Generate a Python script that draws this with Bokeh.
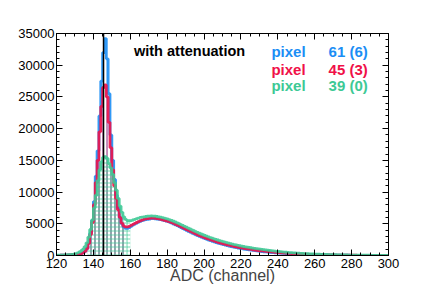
from bokeh.plotting import figure
from bokeh.models import Range1d, FixedTicker, LinearAxis, Label, Span
from bokeh.embed import file_html
from bokeh.resources import INLINE

# ---- data (counts per ADC channel, channels 120..299) ----
channels = list(range(120, 300))

pixel61 = [
    30, 30, 40, 40, 50, 60, 70, 90, 110, 140,
    120, 160, 220, 300, 400, 650, 1100, 2000, 3500, 5500,
    8500, 12500, 16500, 22000, 27500, 32000, 34200, 31000, 25500, 19000,
    15000, 12000, 9500, 7500, 6000, 5000, 4500, 4300, 4300, 4400,
    4600, 4800, 4950, 5100, 5250, 5400, 5500, 5600, 5650, 5700,
    5750, 5800, 5800, 5780, 5750, 5700, 5650, 5580, 5500, 5420,
    5330, 5220, 5100, 4970, 4840, 4700, 4560, 4410, 4260, 4110,
    3960, 3820, 3680, 3540, 3400, 3270, 3140, 3010, 2890, 2770,
    2660, 2550, 2440, 2340, 2240, 2140, 2050, 1960, 1870, 1790,
    1710, 1640, 1560, 1490, 1420, 1360, 1300, 1240, 1180, 1120,
    1070, 1020, 970, 920, 880, 840, 800, 760, 720, 690,
    650, 620, 590, 560, 530, 500, 475, 450, 425, 400,
    380, 360, 340, 320, 300, 285, 270, 255, 240, 225,
    210, 200, 190, 180, 170, 160, 150, 140, 130, 120,
    115, 110, 100, 95, 90, 85, 80, 75, 70, 65,
    60, 58, 55, 52, 48, 45, 42, 40, 38, 35,
    32, 30, 28, 26, 25, 23, 22, 20, 19, 18,
    17, 16, 15, 14, 13, 12, 11, 10, 10, 9,
]

pixel45 = [
    30, 35, 40, 45, 55, 65, 80, 100, 120, 150,
    130, 170, 230, 310, 420, 650, 1050, 1900, 3300, 5200,
    8000, 11500, 15000, 19500, 23500, 26500, 26900, 25000, 21000, 17000,
    13500, 11000, 9000, 7200, 6000, 5100, 4650, 4500, 4500, 4600,
    4750, 4900, 5050, 5200, 5350, 5480, 5600, 5700, 5760, 5800,
    5850, 5880, 5880, 5860, 5820, 5770, 5710, 5640, 5560, 5480,
    5390, 5290, 5180, 5060, 4930, 4800, 4660, 4520, 4380, 4230,
    4090, 3950, 3810, 3670, 3530, 3400, 3270, 3140, 3020, 2900,
    2790, 2680, 2570, 2470, 2370, 2270, 2180, 2090, 2000, 1920,
    1840, 1760, 1690, 1620, 1550, 1480, 1420, 1360, 1300, 1240,
    1190, 1140, 1090, 1040, 990, 950, 910, 870, 830, 790,
    750, 720, 690, 660, 630, 600, 570, 540, 510, 485,
    460, 435, 410, 390, 370, 350, 330, 310, 295, 280,
    265, 250, 235, 220, 210, 200, 190, 180, 170, 160,
    150, 142, 134, 126, 118, 110, 103, 96, 90, 84,
    78, 73, 68, 64, 60, 56, 52, 49, 46, 43,
    40, 38, 36, 34, 32, 30, 28, 26, 24, 22,
    21, 20, 19, 18, 17, 16, 15, 14, 13, 12,
]

pixel39 = [
    40, 45, 55, 65, 80, 95, 115, 140, 170, 210,
    300, 400, 550, 750, 1000, 1400, 2000, 2900, 4100, 5600,
    7500, 9500, 11800, 13500, 14800, 15500, 15600, 15300, 14500, 13800,
    12800, 11500, 10300, 9000, 7800, 6800, 6100, 5700, 5500, 5500,
    5500, 5600, 5700, 5800, 5900, 6000, 6050, 6100, 6150, 6200,
    6200, 6250, 6200, 6200, 6150, 6100, 6050, 5980, 5900, 5820,
    5730, 5630, 5520, 5400, 5280, 5150, 5020, 4880, 4740, 4600,
    4460, 4320, 4180, 4040, 3900, 3770, 3640, 3510, 3390, 3270,
    3150, 3040, 2930, 2830, 2730, 2630, 2530, 2440, 2350, 2260,
    2180, 2100, 2020, 1940, 1870, 1800, 1730, 1660, 1600, 1540,
    1480, 1420, 1370, 1320, 1270, 1220, 1170, 1120, 1080, 1040,
    1000, 960, 920, 880, 840, 800, 765, 730, 695, 660,
    630, 600, 570, 540, 515, 490, 465, 440, 420, 400,
    380, 360, 340, 325, 310, 295, 280, 265, 250, 235,
    220, 208, 196, 185, 175, 165, 155, 146, 138, 130,
    122, 115, 108, 101, 95, 89, 83, 78, 73, 68,
    64, 60, 56, 52, 49, 46, 43, 40, 38, 36,
    34, 32, 30, 28, 26, 24, 22, 20, 19, 18,
]

# hatched (integration) windows, [first, last] channel
window61 = [137, 156]
window45 = [137, 156]
window39 = [137, 159]

marker_channel = 145.5

x_ticks = [120, 140, 160, 180, 200, 220, 240, 260, 280, 300]
y_ticks = [0, 5000, 10000, 15000, 20000, 25000, 30000, 35000]

labels = ["61 (6)", "45 (3)", "39 (0)"]
colors = ["#1b8ef5", "#f01048", "#3dc995"]

FONT = "Liberation Sans"

p = figure(width=436, height=297, output_backend="svg", toolbar_location=None,
           x_range=Range1d(120, 300), y_range=Range1d(0, 35000),
           min_border_left=56, min_border_right=48, min_border_top=33,
           min_border_bottom=42)
p.background_fill_color = "white"
p.border_fill_color = "white"
p.outline_line_color = "black"
p.outline_line_width = 1
p.xgrid.visible = False
p.ygrid.visible = False

xminor = list(range(120, 301, 5))
yminor = list(range(0, 35001, 1000))


def style_axis(ax, show_labels=True):
    ax.axis_line_color = "black"
    ax.major_tick_in = 6
    ax.major_tick_out = 0
    ax.minor_tick_in = 3
    ax.minor_tick_out = 0
    ax.major_tick_line_color = "black"
    ax.minor_tick_line_color = "black"
    ax.major_label_text_font = FONT
    ax.major_label_text_font_size = "13px"
    ax.major_label_text_color = "black"
    ax.major_label_standoff = 3
    if not show_labels:
        ax.major_label_text_font_size = "0px"
        ax.major_label_standoff = 0


p.xaxis.ticker = FixedTicker(ticks=x_ticks, minor_ticks=xminor)
p.yaxis.ticker = FixedTicker(ticks=y_ticks, minor_ticks=yminor)
style_axis(p.xaxis[0])
style_axis(p.yaxis[0])
p.yaxis[0].major_label_standoff = 2
p.xaxis.axis_label = "ADC (channel)"
p.xaxis.axis_label_text_font = FONT
p.xaxis.axis_label_text_font_size = "16px"
p.xaxis.axis_label_text_font_style = "normal"
p.xaxis.axis_label_standoff = -4

ax_r = LinearAxis(ticker=FixedTicker(ticks=y_ticks, minor_ticks=yminor))
style_axis(ax_r, False)
p.add_layout(ax_r, "right")
ax_t = LinearAxis(ticker=FixedTicker(ticks=x_ticks, minor_ticks=xminor))
style_axis(ax_t, False)
p.add_layout(ax_t, "above")

series = [pixel61, pixel45, pixel39]
windows = [window61, window45, window39]
hatches = ["|", "|", "+"]

# hatched windows
for vals, win, col, hp in zip(series, windows, colors, hatches):
    lefts = [c for c in channels if win[0] <= c <= win[1]]
    tops = [vals[channels.index(c)] for c in lefts]
    p.quad(left=lefts, right=[c + 1 for c in lefts], bottom=0, top=tops,
           fill_color=None, line_color=None, hatch_pattern=hp,
           hatch_color=col, hatch_alpha=0.75, hatch_scale=4, hatch_weight=1)

# histogram outlines
for vals, col in zip(series, colors):
    xs = channels + [channels[-1] + 1]
    ys = vals + [vals[-1]]
    p.step(x=xs, y=ys, mode="after", line_color=col, line_width=2.8,
           line_alpha=0.9)

p.add_layout(Span(location=marker_channel, dimension="height",
                  line_color="black", line_width=1.5))

p.add_layout(Label(x=162, y=32200, text="with attenuation",
                   text_font=FONT, text_font_style="bold",
                   text_font_size="14.5px", text_color="black",
                   text_baseline="middle"))

rows_y = [32100, 29400, 26800]
for lab, col, yy in zip(labels, colors, rows_y):
    p.add_layout(Label(x=236.5, y=yy, text="pixel", text_font=FONT,
                       text_font_style="bold", text_font_size="15px",
                       text_color=col, text_baseline="middle"))
    p.add_layout(Label(x=267.5, y=yy, text=lab, text_font=FONT,
                       text_font_style="bold", text_font_size="15px",
                       text_color=col, text_baseline="middle"))

open("out.html", "w").write(file_html(p, INLINE))
